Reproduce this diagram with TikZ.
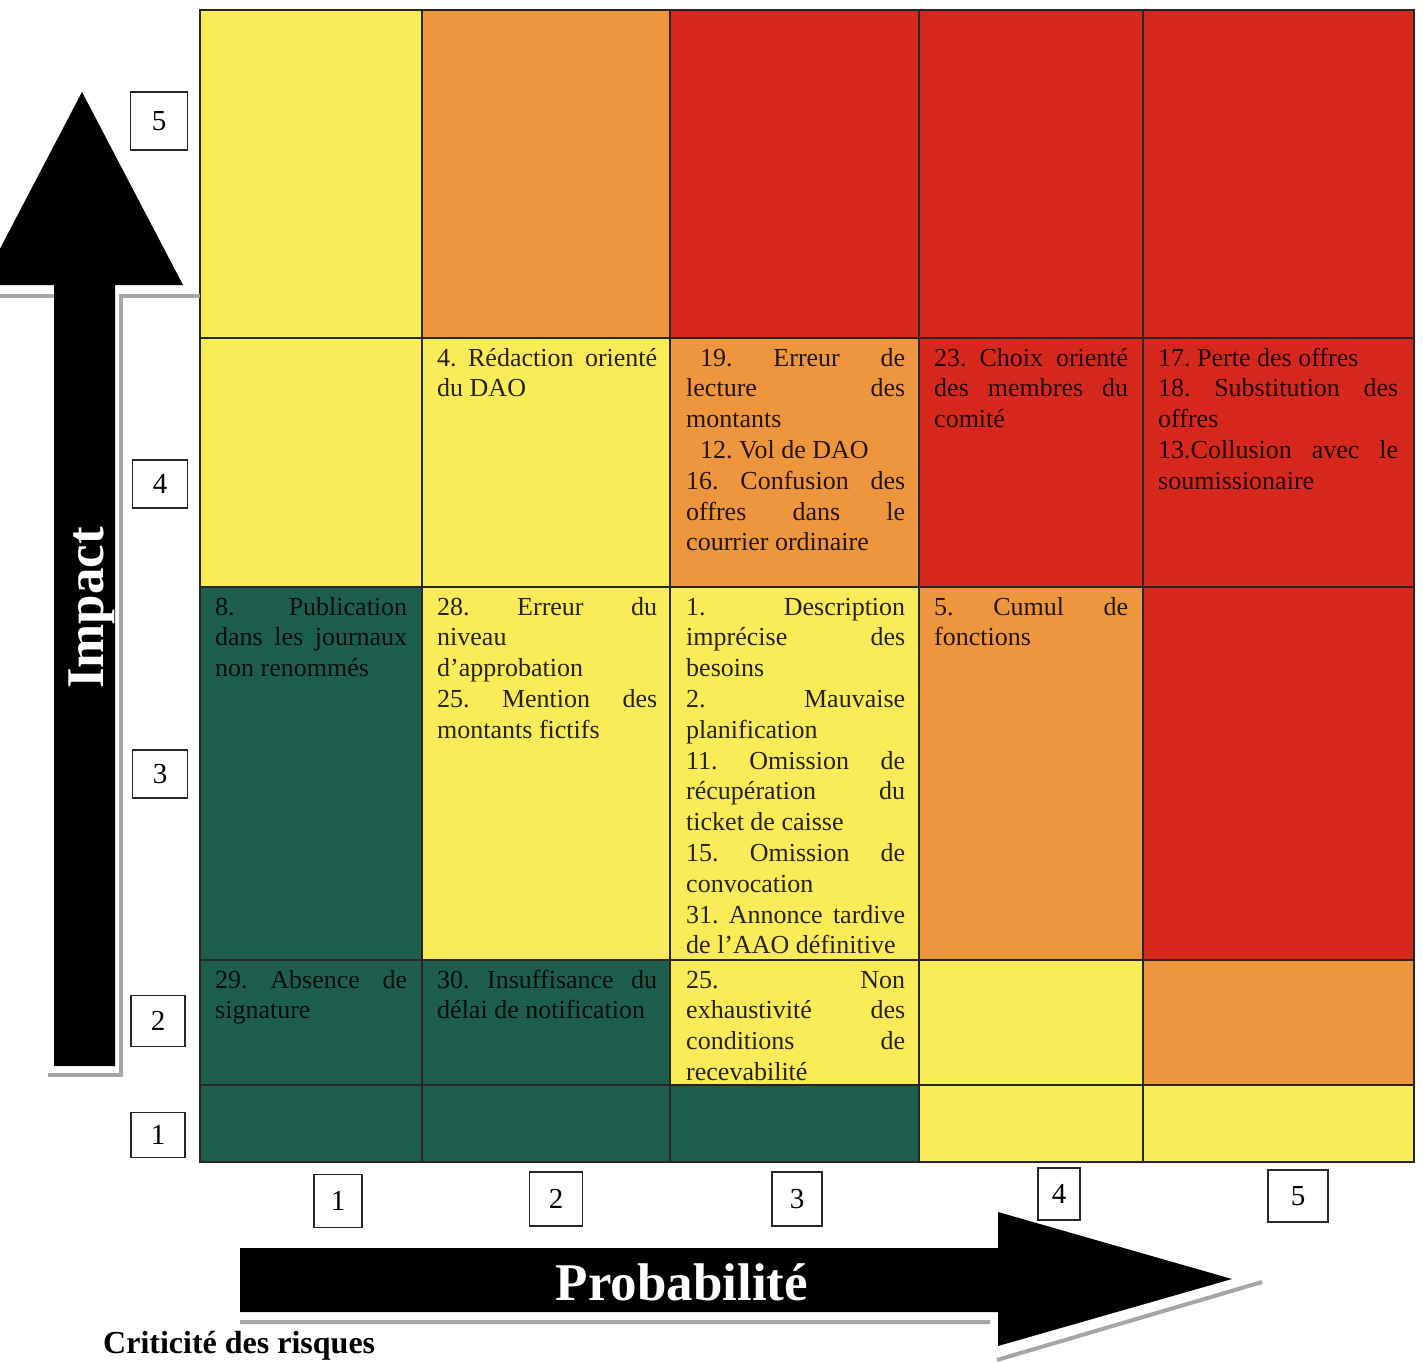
\documentclass[tikz,border=0pt]{standalone}
\usepackage{fontspec}
\setmainfont{Liberation Serif}
\usepackage{xcolor}
\usepackage{tikz}
\pretolerance=10000
\hyphenpenalty=10000
\frenchspacing
\definecolor{riskyellow}{RGB}{250,236,88}
\definecolor{riskorange}{RGB}{238,150,62}
\definecolor{riskred}{RGB}{214,40,28}
\definecolor{riskgreen}{RGB}{29,94,76}
\tikzstyle{risk} = [anchor=base west, align=justify, inner sep=0pt, font=\fontsize{26}{30.8}\selectfont, text opacity=0.85]
\tikzstyle{numbox} = [rectangle, draw=black!85, line width=1.2pt, fill=white, inner sep=0pt, font=\fontsize{29}{29}\selectfont]
\tikzstyle{gridline} = [draw=black!85, line width=1.6pt]
\tikzstyle{axisshadow} = [draw=black!35, line width=4pt]
\tikzstyle{axislabel} = [text=white, inner sep=0pt, font=\fontsize{53}{53}\selectfont\bfseries]

\begin{document}
\begin{tikzpicture}[x=1pt, y=-1pt]
\useasboundingbox (0,0) rectangle (1423,1362);
\clip (0,0) rectangle (1423,1362);

% cells, impact 5 at the top
\fill[riskyellow] (200,10) rectangle (422,338);
\fill[riskorange] (422,10) rectangle (670,338);
\fill[riskred] (670,10) rectangle (1414,338);
\fill[riskyellow] (200,338) rectangle (670,587);
\fill[riskorange] (670,338) rectangle (919,587);
\fill[riskred] (919,338) rectangle (1414,587);
\fill[riskgreen] (200,587) rectangle (422,960);
\fill[riskyellow] (422,587) rectangle (919,960);
\fill[riskorange] (919,587) rectangle (1143,960);
\fill[riskred] (1143,587) rectangle (1414,960);
\fill[riskgreen] (200,960) rectangle (670,1085);
\fill[riskyellow] (670,960) rectangle (1143,1085);
\fill[riskorange] (1143,960) rectangle (1414,1085);
\fill[riskgreen] (200,1085) rectangle (919,1162);
\fill[riskyellow] (919,1085) rectangle (1414,1162);

\draw[gridline] (200,10) rectangle (1414,1162);
\draw[gridline] (422,10) -- (422,1162) (670,10) -- (670,1162) (919,10) -- (919,1162) (1143,10) -- (1143,1162);
\draw[gridline] (200,338) -- (1414,338) (200,587) -- (1414,587) (200,960) -- (1414,960) (200,1085) -- (1414,1085);

% impact 4
\node (redaction) [risk, text width=220pt] at (437,366) {4. Rédaction orienté\linebreak du DAO};
\node (erreurlecture) [risk, text width=219pt] at (686,366) {\hspace*{14pt}19. Erreur de\linebreak lecture des\linebreak montants\par\hspace*{14pt}12. Vol de DAO\par 16. Confusion des\linebreak offres dans le\linebreak courrier ordinaire};
\node (choix) [risk, text width=194pt] at (934,366) {23. Choix orienté\linebreak des membres du\linebreak comité};
\node (perte) [risk, text width=240pt] at (1158,366) {17. Perte des offres\par 18. Substitution des\linebreak offres\par 13.Collusion avec le\linebreak soumissionaire};

% impact 3
\node (publication) [risk, text width=192pt] at (215,615) {8. Publication\linebreak dans les journaux\linebreak non renommés};
\node (erreurniveau) [risk, text width=220pt] at (437,615) {28. Erreur du\linebreak niveau\par d’approbation\par 25. Mention des\linebreak montants fictifs};
\node (description) [risk, text width=219pt] at (686,615) {1. Description\linebreak imprécise des\linebreak besoins\par 2. Mauvaise\linebreak planification\par 11. Omission de\linebreak récupération du\linebreak ticket de caisse\par 15. Omission de\linebreak convocation\par 31. Annonce tardive\linebreak de l’AAO définitive};
\node (cumul) [risk, text width=194pt] at (934,615) {5. Cumul de\linebreak fonctions};

% impact 2
\node (absence) [risk, text width=192pt] at (215,988) {29. Absence de\linebreak signature};
\node (insuffisance) [risk, text width=220pt] at (437,988) {30. Insuffisance du\linebreak délai de notification};
\node (exhaustivite) [risk, text width=219pt] at (686,988) {25. Non\linebreak exhaustivité des\linebreak conditions de\linebreak recevabilité};

% impact axis
\draw[axisshadow] (0,296) -- (54,296) (200,296) -- (121,296) -- (121,1075) -- (48,1075);
\fill[black] (54,1066) -- (54,285) -- (-19,285) -- (82,92) -- (183,285) -- (115,285) -- (115,1066) -- cycle;
\node (impact) [axislabel, rotate=90, anchor=base] at (103,608) {Impact};

\node (imp5) [numbox, minimum width=57pt, minimum height=58pt] at (159,121) {5};
\node (imp4) [numbox, minimum width=55pt, minimum height=48pt] at (160,484) {4};
\node (imp3) [numbox, minimum width=55pt, minimum height=48pt] at (160,774) {3};
\node (imp2) [numbox, minimum width=54pt, minimum height=51pt] at (158,1021) {2};
\node (imp1) [numbox, minimum width=54pt, minimum height=45pt] at (158,1135) {1};

% probabilite axis
\draw[axisshadow] (240,1322) -- (990,1322) (997,1360) -- (1262,1282);
\fill[black] (240,1248) -- (998,1248) -- (998,1212) -- (1232,1279) -- (998,1346) -- (998,1312) -- (240,1312) -- cycle;
\node (proba) [axislabel, anchor=base] at (682,1300) {Probabilité};

\node (prob1) [numbox, minimum width=48pt, minimum height=53pt] at (338,1201) {1};
\node (prob2) [numbox, minimum width=53pt, minimum height=54pt] at (556,1199) {2};
\node (prob3) [numbox, minimum width=50pt, minimum height=54pt] at (797,1199) {3};
\node (prob4) [numbox, minimum width=42pt, minimum height=52pt] at (1059,1194) {4};
\node (prob5) [numbox, minimum width=60pt, minimum height=52pt] at (1298,1196) {5};

\node (titre) [anchor=base west, inner sep=0pt, font=\fontsize{32}{32}\selectfont\bfseries] at (103,1353) {Criticité des risques};

\end{tikzpicture}
\end{document}
